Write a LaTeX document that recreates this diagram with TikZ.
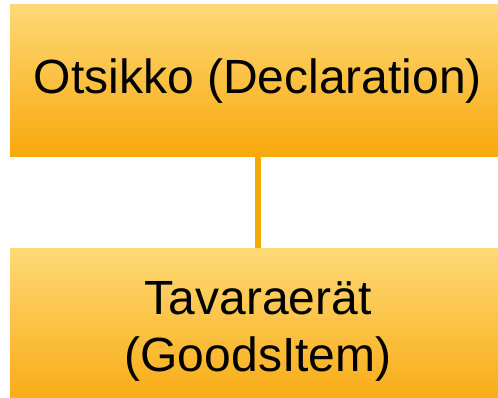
\documentclass[tikz,border=0pt]{standalone}
\usepackage{fontspec}
\setmainfont{Liberation Sans}
\usepackage{tikz}
\usetikzlibrary{positioning}

\definecolor{boxtop}{RGB}{254,217,118}
\definecolor{boxbottom}{RGB}{248,168,12}
\definecolor{linkline}{RGB}{245,168,0}

\tikzset{
  entity/.style={rectangle, minimum width=496pt, inner sep=0pt,
    top color=boxtop, bottom color=boxbottom, align=center,
    font=\fontsize{48}{57}\selectfont, text=black}
}

\begin{document}
\begin{tikzpicture}[x=1pt,y=1pt]

\useasboundingbox (0,0) rectangle (498,397);

\node[entity, minimum height=152pt] (decl) at (258,316) {Otsikko (Declaration)};
\node[entity, minimum height=166pt] (goods) at (258,66) {Tavaraerät\\(GoodsItem)};

\draw[linkline, line width=6pt] (decl.south) -- (goods.north);

\end{tikzpicture}
\end{document}
